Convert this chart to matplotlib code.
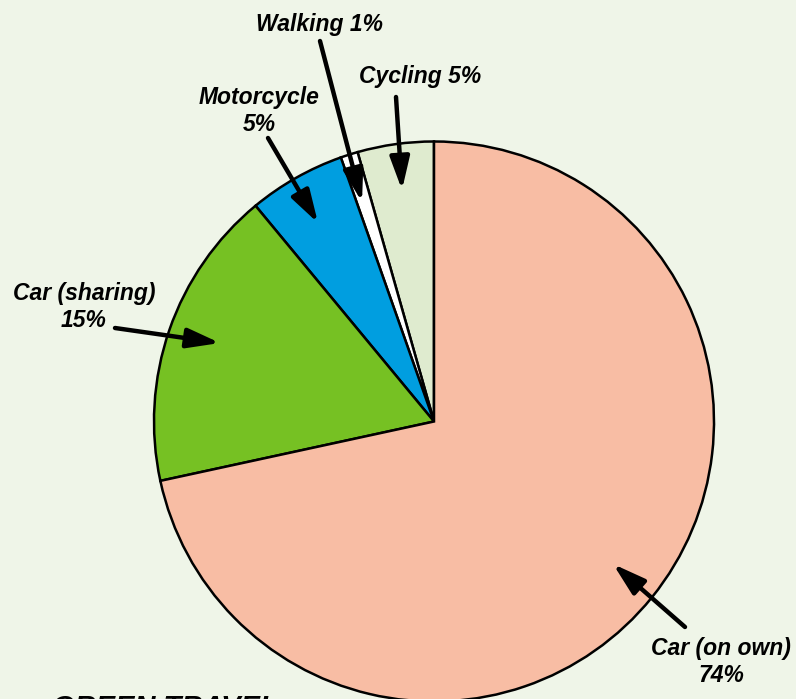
import matplotlib.pyplot as plt

# wedge sizes as drawn (counter-clockwise from 12 o'clock)
modes = ["Cycling", "Walking", "Motorcycle", "Car (sharing)", "Car (on own)"]
shares = [4.4, 1.0, 5.6, 17.4, 71.6]
labels = ["Cycling 5%", "Walking 1%", "Motorcycle\n5%", "Car (sharing)\n15%", "Car (on own)\n74%"]
colors = ["#dfebcf", "#ffffff", "#009ee0", "#76c123", "#f8bda4"]

W, H = 796, 699
bg = "#eff5e8"

fig = plt.figure(figsize=(W / 100, H / 100), dpi=100, facecolor=bg)
ax = fig.add_axes([0, 0, 1, 1])
ax.set_facecolor(bg)

cx, cy, r = 434, H - 421.5, 280
ax.pie(shares, colors=colors, startangle=90, counterclock=True,
       center=(cx, cy), radius=r,
       wedgeprops=dict(edgecolor="black", linewidth=1.8))

ax.set_xlim(0, W)
ax.set_ylim(0, H)
ax.set_aspect("equal")
ax.axis("off")

# label position, arrow tail, arrow head (pixel coords from top-left)
text_pos = [(420, 77), (319, 24), (259, 111), (84, 307), (721, 662)]
tails = [(396, 97), (320, 41), (268, 138), (115, 328), (685, 627)]
heads = [(402, 190), (362, 202), (318, 223), (220, 343), (613, 564)]

font = dict(family="Liberation Sans", weight="bold", style="italic", size=16.5)
for lab, (tx, ty), (ax0, ay0), (hx, hy) in zip(labels, text_pos, tails, heads):
    ax.text(tx, H - ty, lab, ha="center", va="center", linespacing=1.2, **font)
    ax.annotate("", xy=(hx, H - hy), xytext=(ax0, H - ay0),
                arrowprops=dict(arrowstyle="-|>,head_length=0.9,head_width=0.27",
                                lw=3.2, color="black", mutation_scale=22,
                                shrinkA=0, shrinkB=0))

ax.text(52, H - 694, "GREEN TRAVEL", ha="left", va="top",
        family="Liberation Sans", weight="bold", style="italic", size=21)

fig.savefig("out.png", dpi=100, facecolor=bg)
